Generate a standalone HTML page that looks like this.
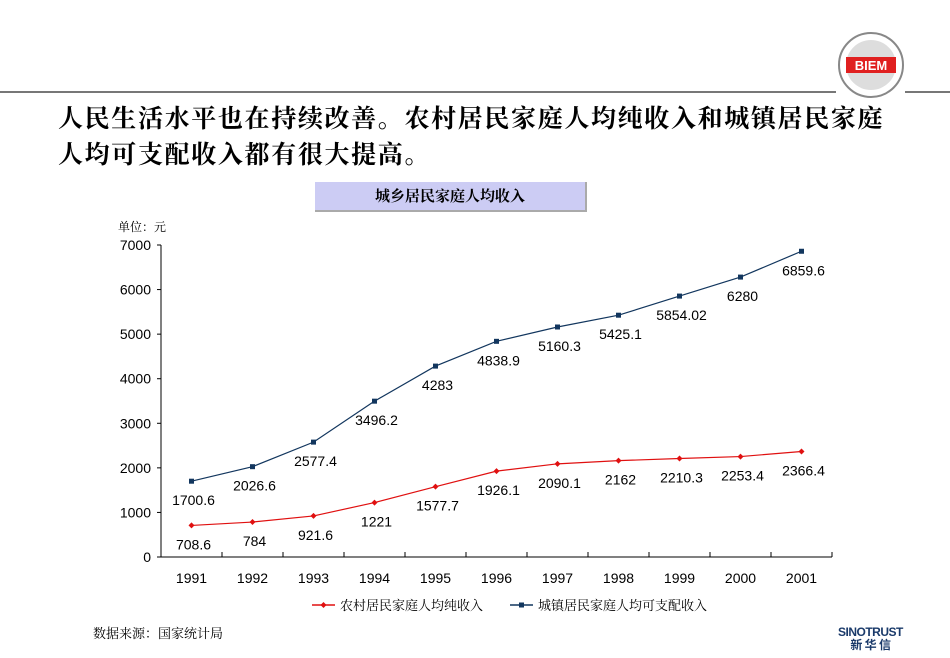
<!DOCTYPE html>
<html><head><meta charset="utf-8"><style>
body{margin:0;width:950px;height:658px;background:#fff;position:relative;overflow:hidden;font-family:"Liberation Sans","Noto Sans CJK SC",sans-serif}
.abs{position:absolute}
</style></head><body>
<div class="abs" style="left:0;top:91px;width:836px;height:2px;background:#777"></div>
<div class="abs" style="left:905px;top:91px;width:45px;height:2px;background:#777"></div>
<svg class="abs" style="left:836px;top:30px" width="70" height="70" viewBox="0 0 70 70">
<circle cx="35" cy="35" r="32" fill="#fff" stroke="#888" stroke-width="2"/>
<circle cx="35" cy="35" r="25" fill="#ddd"/>
<rect x="10" y="27" width="50" height="16" fill="#e02020"/>
<text x="35" y="40" font-size="13" font-weight="bold" fill="#fff" text-anchor="middle" font-family="Liberation Sans">BIEM</text>
</svg>
<div class="abs" style="left:58px;top:102px;width:880px;font-family:'Liberation Serif','Noto Serif CJK SC',serif;font-weight:bold;font-size:25px;letter-spacing:1.65px;line-height:36px;color:#000;white-space:nowrap">人民生活水平也在持续改善。农村居民家庭人均纯收入和城镇居民家庭<br>人均可支配收入都有很大提高。</div>
<div class="abs" style="left:315px;top:182px;width:272px;height:30px;background:#ccccf4;border-right:2px solid #aaa;border-bottom:2px solid #aaa;box-sizing:border-box;text-align:center;line-height:30px;font-family:'Liberation Serif','Noto Serif CJK SC',serif;font-weight:bold;font-size:15px">城乡居民家庭人均收入</div>
<svg class="abs" style="left:0;top:0" width="950" height="658" id="chart"></svg>
<div class="abs" style="left:93px;top:623px;font-size:13px;font-family:'Liberation Serif','Noto Serif CJK SC',serif">数据来源：国家统计局</div>
<div class="abs" style="left:838px;top:626px;font-size:12px;font-weight:bold;color:#1a3a6a;line-height:13px;text-align:center;letter-spacing:-0.5px">SINOTRUST<br>新 华 信</div>
<script>
const years=["1991","1992","1993","1994","1995","1996","1997","1998","1999","2000","2001"];
const rural=[708.6,784,921.6,1221,1577.7,1926.1,2090.1,2162,2210.3,2253.4,2366.4];
const urban=[1700.6,2026.6,2577.4,3496.2,4283,4838.9,5160.3,5425.1,5854.02,6280,6859.6];
const ruralLabels=["708.6","784","921.6","1221","1577.7","1926.1","2090.1","2162","2210.3","2253.4","2366.4"];
const urbanLabels=["1700.6","2026.6","2577.4","3496.2","4283","4838.9","5160.3","5425.1","5854.02","6280","6859.6"];
const yTicks=[0,1000,2000,3000,4000,5000,6000,7000];
const svg=document.getElementById('chart');const NS='http://www.w3.org/2000/svg';
const x0=161,step=61,yb=557,yt=245,ymax=7000;
const X=i=>x0+step*(i+0.5);const Y=v=>yb-(v/ymax)*(yb-yt);
function mk(t,a,p){const e=document.createElementNS(NS,t);for(const k in a)e.setAttribute(k,a[k]);(p||svg).appendChild(e);return e;}
let e;
e=mk('text',{x:118,y:231,'font-size':12,'font-family':'Liberation Serif,Noto Serif CJK SC,serif'});e.textContent='单位：元';


e=mk('line',{x1:x0,y1:yt,x2:x0,y2:yb,stroke:'#000'});


e=mk('line',{x1:x0,y1:yb,x2:x0+step*years.length,y2:yb,stroke:'#000'});


yTicks.forEach(v=>{mk('line',{x1:x0-4,x2:x0,y1:Y(v),y2:Y(v),stroke:'#000'});
e=mk('text',{x:x0-10,y:Y(v)+5,'text-anchor':'end','font-size':14});e.textContent=v;

});
years.forEach((y,i)=>{mk('line',{x1:x0+step*(i+1),x2:x0+step*(i+1),y1:yb,y2:yb-5,stroke:'#000'});
e=mk('text',{x:X(i),y:583,'text-anchor':'middle','font-size':14});e.textContent=y;

});
function series(vals,labels,col,name,diamond){
 e=mk('polyline',{points:vals.map((v,i)=>X(i)+','+Y(v)).join(' '),fill:'none',stroke:col,'stroke-width':1.2});
 
 
 vals.forEach((v,i)=>{
  if(diamond){e=mk('polygon',{points:`${X(i)},${Y(v)-3} ${X(i)+3},${Y(v)} ${X(i)},${Y(v)+3} ${X(i)-3},${Y(v)}`,fill:col});}
  else{e=mk('rect',{x:X(i)-2.5,y:Y(v)-2.5,width:5,height:5,fill:col});}
  
  
  e=mk('text',{x:X(i)+2,y:Y(v)+24,'text-anchor':'middle','font-size':14});e.textContent=labels[i];
  
  
 });
}
series(urban,urbanLabels,'#12365e','urban',false);
series(rural,ruralLabels,'#e01010','rural',true);
e=mk('line',{x1:312,x2:335,y1:605,y2:605,stroke:'#e01010','stroke-width':1.5});


mk('polygon',{points:'323.5,602 326.5,605 323.5,608 320.5,605',fill:'#e01010'});
e=mk('text',{x:340,y:610,'font-size':13,'font-family':'Liberation Serif,Noto Serif CJK SC,serif'});e.textContent='农村居民家庭人均纯收入';


e=mk('line',{x1:510,x2:533,y1:605,y2:605,stroke:'#12365e','stroke-width':1.5});


mk('rect',{x:519,y:602.5,width:5,height:5,fill:'#12365e'});
e=mk('text',{x:538,y:610,'font-size':13,'font-family':'Liberation Serif,Noto Serif CJK SC,serif'});e.textContent='城镇居民家庭人均可支配收入';


</script>
</body></html>
